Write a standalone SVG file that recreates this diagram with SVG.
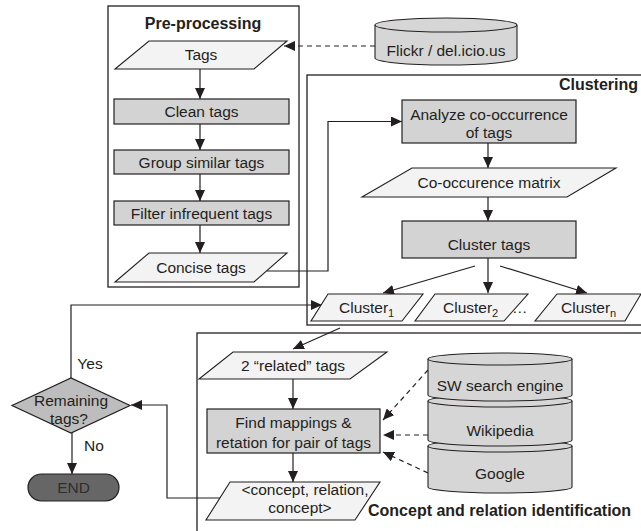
<svg xmlns="http://www.w3.org/2000/svg" width="641" height="531" viewBox="0 0 641 531">
<defs>
<style>
text{font-family:"Liberation Sans",Arial,sans-serif;font-size:15.5px;fill:#231f20}
.t{text-anchor:middle}
.b{font-weight:bold;font-size:16px}
.sub{font-size:11px}
.box{fill:none;stroke:#231f20;stroke-width:1.3}
.proc{fill:#d3d3d3;stroke:#231f20;stroke-width:1.2}
.data{fill:#f3f3f3;stroke:#231f20;stroke-width:1.1}
.db{fill:#d6d6d6;stroke:#231f20;stroke-width:1.1}
.c{fill:none;stroke:#231f20;stroke-width:1.2;marker-end:url(#ah)}
.d{fill:none;stroke:#231f20;stroke-width:1.2;stroke-dasharray:5,4;marker-end:url(#ah)}
</style>
<marker id="ah" markerUnits="userSpaceOnUse" markerWidth="12" markerHeight="10" refX="11" refY="5" orient="auto">
<path d="M0,0 L11,5 L0,10 z" fill="#231f20"/>
</marker>
</defs>
<rect width="641" height="531" fill="#fff"/>

<g id="containers">
<rect class="box" x="108" y="6" width="191" height="281"/>
<text class="t b" x="203" y="29">Pre-processing</text>
<rect class="box" x="307" y="75" width="345" height="250"/>
<text class="b" x="638" y="90" text-anchor="end">Clustering</text>
<rect class="box" x="197" y="333" width="460" height="220"/>
<text class="b" x="368" y="516">Concept and relation identification</text>
</g>

<g id="connectors">
<path class="c" d="M200,69 V99"/>
<path class="c" d="M200,124 V150"/>
<path class="c" d="M200,174 V201"/>
<path class="c" d="M200,225 V253"/>
<path class="d" d="M375,46 H284"/>
<path class="c" d="M267,271 H328 V121.5 H402"/>
<path class="c" d="M488,143 V168"/>
<path class="c" d="M488,197 V221"/>
<path class="c" d="M475,266 L383,293"/>
<path class="c" d="M488,258 V293"/>
<path class="c" d="M500,266 L587,293"/>
<path class="c" d="M71,378 V305 H322"/>
<path class="c" d="M340,328 L293,349"/>
<path class="c" d="M293,379 V409"/>
<path class="c" d="M293,453 V482"/>
<path class="c" d="M220,498 H167 V405 H131"/>
<path class="c" d="M72,433 V474"/>
<path class="d" d="M428,370 L383,420"/>
<path class="d" d="M428,435 H383"/>
<path class="d" d="M428,473 L383,452"/>
<text class="t" x="90" y="369">Yes</text>
<text class="t" x="94" y="451">No</text>
</g>

<g id="tags"><polygon class="data" points="149,41 287,41 254,69 115,69"/><text class="t" x="201" y="60">Tags</text></g>
<g id="clean"><rect class="proc" x="114" y="99" width="175" height="25"/><text class="t" x="201.5" y="117">Clean tags</text></g>
<g id="group"><rect class="proc" x="114" y="150" width="175" height="24"/><text class="t" x="201.5" y="167.5">Group similar tags</text></g>
<g id="filter"><rect class="proc" x="114" y="201" width="175" height="24"/><text class="t" x="201.5" y="218.5">Filter infrequent tags</text></g>
<g id="concise"><polygon class="data" points="149,253 287,253 254,282 115,282"/><text class="t" x="201" y="273">Concise tags</text></g>

<g id="flickr">
<path class="db" d="M375,25 V58 A71,7 0 0 0 517,58 V25"/>
<ellipse class="db" cx="446" cy="25" rx="71" ry="7"/>
<text class="t" x="446" y="55.5">Flickr / del.icio.us</text>
</g>

<g id="analyze"><rect class="proc" x="402" y="100" width="174" height="43"/><text class="t" x="489" y="119.5">Analyze co-occurrence</text><text class="t" x="489" y="137.5">of tags</text></g>
<g id="matrix"><polygon class="data" points="412,168 616,168 567,197 362,197"/><text class="t" x="489" y="188">Co-occurence matrix</text></g>
<g id="clustertags"><rect class="proc" x="402" y="221" width="174" height="37"/><text class="t" x="489" y="249.5">Cluster tags</text></g>
<g id="cluster1"><polygon class="data" points="328,294 423,294 402,321 311,321"/><text x="339" y="313">Cluster<tspan class="sub" dy="4">1</tspan></text></g>
<g id="cluster2"><polygon class="data" points="435,294 528,294 504,321 415,321"/><text x="443" y="313">Cluster<tspan class="sub" dy="4">2</tspan></text></g>
<text x="512" y="313">…</text>
<g id="clustern"><polygon class="data" points="557,294 641,294 625,321 535,321"/><text x="561" y="313">Cluster<tspan class="sub" dy="4">n</tspan></text></g>

<g id="related"><polygon class="data" points="233,352 387,352 350,379 199,379"/><text class="t" x="293" y="371">2 “related” tags</text></g>
<g id="find"><rect class="proc" x="207" y="409" width="173" height="44"/><text class="t" x="293.5" y="428">Find mappings &amp;</text><text class="t" x="293.5" y="448">retation for pair of tags</text></g>
<g id="triple"><polygon class="data" points="230,482 380,482 355,520 206,520"/><text class="t" x="305" y="495">&lt;concept, relation,</text><text class="t" x="300" y="513">concept&gt;</text></g>

<g id="remaining"><polygon points="12,405.5 71,378 130,405.5 71,433" fill="#bdbdbd" stroke="#231f20" stroke-width="1.2"/><text class="t" x="71" y="406">Remaining</text><text class="t" x="69" y="424">tags?</text></g>
<g id="end"><rect x="28" y="474" width="91" height="27" rx="13.5" fill="#666" stroke="#231f20" stroke-width="1.2"/><text class="t" x="73.5" y="493" fill="#2a2a2a" style="fill:#2e2e2e">END</text></g>

<g id="sources">
<g id="google">
<path class="db" d="M428,446 V487 A72,6 0 0 0 572,487 V446"/>
<ellipse class="db" cx="500" cy="446" rx="72" ry="6"/>
<text class="t" x="500" y="479">Google</text>
</g>
<g id="wikipedia">
<path class="db" d="M428,401 V440 A72,6 0 0 0 572,440 V401"/>
<ellipse class="db" cx="500" cy="401" rx="72" ry="6"/>
<text class="t" x="500" y="435.5">Wikipedia</text>
</g>
<g id="sw">
<path class="db" d="M428,359 V395 A72,6 0 0 0 572,395 V359"/>
<ellipse class="db" cx="500" cy="359" rx="72" ry="6"/>
<text class="t" x="500" y="390.5">SW search engine</text>
</g>
</g>
</svg>
